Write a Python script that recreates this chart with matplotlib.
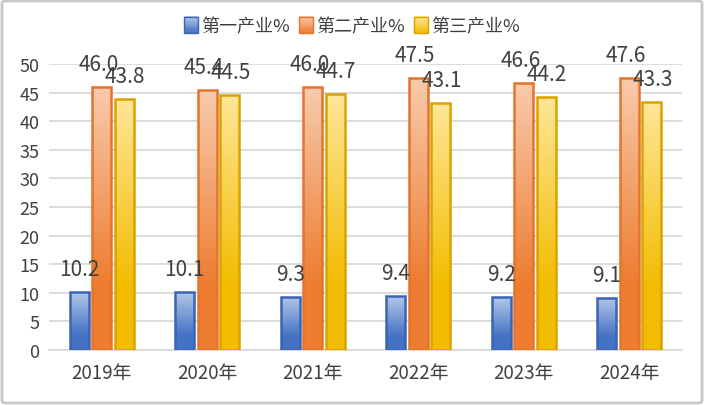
import numpy as np
import matplotlib
matplotlib.use("Agg")
import matplotlib.pyplot as plt
from matplotlib.colors import LinearSegmentedColormap, to_rgb
from matplotlib.patches import Rectangle, FancyBboxPatch
from matplotlib.legend_handler import HandlerBase

plt.rcParams['font.family'] = ['Noto Sans CJK SC', 'DejaVu Sans']

categories = ['2019年', '2020年', '2021年', '2022年', '2023年', '2024年']
series_names = ['第一产业%', '第二产业%', '第三产业%']
primary = [10.2, 10.1, 9.3, 9.4, 9.2, 9.1]
secondary = [46.0, 45.4, 46.0, 47.5, 46.6, 47.6]
tertiary = [43.8, 44.5, 44.7, 43.1, 44.2, 43.3]
y_ticks = [0, 5, 10, 15, 20, 25, 30, 35, 40, 45, 50]

styles = [
    dict(light='#b4c7e7', full='#4472c4', edge='#3a64b4'),
    dict(light='#f8cbad', full='#ed7d31', edge='#e6732a'),
    dict(light='#ffe699', full='#f2bc00', edge='#d9a300'),
]
text_color = '#404040'

fig = plt.figure(figsize=(7.04, 4.06), dpi=100)
ax = fig.add_axes([49/704, 55/406, (682-49)/704, 286/406])

x = np.arange(len(categories))
width = 0.18
step = 0.213
series = [primary, secondary, tertiary]
label_dx = [0, -3, 1]

def make_cmap(st):
    return LinearSegmentedColormap.from_list(
        'g', [(0.0, st['full']), (0.25, st['full']), (1.0, st['light'])])

for i, (vals, st) in enumerate(zip(series, styles)):
    xs = x + (i - 1) * step
    bars = ax.bar(xs, vals, width, facecolor='none', edgecolor=st['edge'],
                  linewidth=1.8, zorder=4)
    cmap = make_cmap(st)
    grad = np.linspace(1, 0, 256).reshape(-1, 1)
    for b, v in zip(bars, vals):
        x0 = b.get_x()
        w = b.get_width()
        # soft shadow
        ax.add_patch(Rectangle((x0 + 0.014, 0), w, v, facecolor='#8a7a50',
                               alpha=0.05, edgecolor='none', zorder=2))
        im = ax.imshow(grad, cmap=cmap, extent=[x0, x0 + w, 0, v],
                       aspect='auto', zorder=3, interpolation='bilinear')
        im.set_clip_path(b)
        ax.annotate(f'{v:.1f}', (b.get_x() + w / 2, v), xytext=(label_dx[i], 23),
                    textcoords='offset pixels', ha='center', va='center',
                    fontsize=15, color=text_color, zorder=6)

ax.set_xlim(-0.5, len(categories) - 0.5)
ax.set_ylim(0, 50)
ax.set_yticks(y_ticks)
ax.set_xticks(x)
ax.set_xticklabels(categories)
ax.yaxis.grid(True, color='#d9d9d9', linewidth=1.3, zorder=0)
ax.set_axisbelow(True)
for s in ['top', 'right', 'left']:
    ax.spines[s].set_visible(False)
ax.spines['bottom'].set_color('#d9d9d9')
ax.spines['bottom'].set_linewidth(1.3)
ax.tick_params(axis='both', length=0, colors=text_color)
ax.tick_params(axis='x', pad=9, labelsize=13.5)
ax.tick_params(axis='y', pad=7, labelsize=13)


class GradHandler(HandlerBase):
    def __init__(self, st):
        super().__init__()
        self.st = st

    def create_artists(self, legend, orig_handle, xdescent, ydescent, width,
                       height, fontsize, trans):
        arts = []
        n = 14
        h = height * 1.1
        w = h * 0.85
        x0 = -xdescent + (width - w) / 2
        y0 = -ydescent + (height - h) / 2
        lt = np.array(to_rgb(self.st['light']))
        fu = np.array(to_rgb(self.st['full']))
        for k in range(n):
            t = k / (n - 1)
            c = fu * (1 - t) + lt * t
            r = Rectangle((x0, y0 + h * k / n), w, h / n + 0.2, facecolor=c,
                          edgecolor='none', transform=trans)
            arts.append(r)
        arts.append(Rectangle((x0, y0), w, h, facecolor='none',
                              edgecolor=self.st['edge'], linewidth=1.0,
                              transform=trans))
        return arts


handles = [Rectangle((0, 0), 1, 1) for _ in series_names]
fig.legend(handles, series_names, loc='center', bbox_to_anchor=(352/704, 1 - 27/406),
           ncol=3, frameon=False, fontsize=13, handlelength=0.8, handleheight=0.9,
           handletextpad=0.15, columnspacing=0.5, labelcolor=text_color,
           handler_map={h: GradHandler(st) for h, st in zip(handles, styles)})

border = FancyBboxPatch((2/704, 2/406), 1 - 4/704, 1 - 4/406,
                        boxstyle='round,pad=0,rounding_size=0.006',
                        transform=fig.transFigure, facecolor='none',
                        edgecolor='#c8c8c8', linewidth=2)
fig.patches.append(border)

fig.savefig('out.png', dpi=100)
